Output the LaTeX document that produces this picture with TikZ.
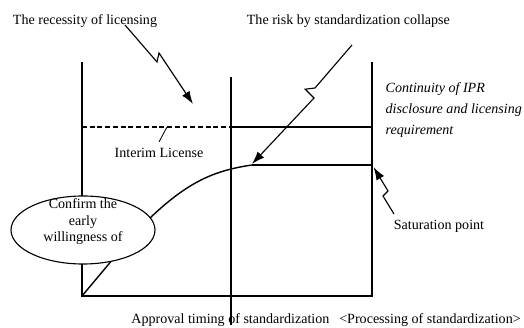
\documentclass[tikz,border=0pt]{standalone}
\usepackage{fontspec}
\setmainfont{Liberation Serif}
\usetikzlibrary{arrows.meta, positioning, shapes.geometric, calc}
\tikzset{
  every picture/.style={line width=1pt},
  txt/.style={font=\fontsize{10}{11.7}\selectfont, inner sep=0pt, anchor=base},
  note/.style={font=\fontsize{10}{15}\selectfont\itshape, inner sep=0pt, align=left, anchor=north west},
  bolt/.style={-{Latex[length=3.2mm, width=2.2mm]}, line width=0.8pt},
  leader/.style={line width=0.6pt},
}

\begin{document}
\begin{tikzpicture}
  \useasboundingbox (-2.05,-0.8) rectangle (11.05,7.4);
  % frame
  \draw (0,5.85) -- (0,0) -- (7.25,0) -- (7.25,5.85);
  \draw (3.72,5.475) -- (3.72,-0.725);
  \draw[dash pattern=on 3.5pt off 2pt] (0,4.225) -- (3.72,4.225);
  \draw (3.72,4.225) -- (7.25,4.225);
  \draw (4.25,3.275) -- (7.25,3.275);
  % growth curve, ellipse on top of it
  \draw (0,0) -- (1.3,1.55) .. controls (2.5,2.8) and (3.2,3.12) .. (4.25,3.275);
  \node[draw, ellipse, fill=white, line width=0.8pt, minimum width=3.6cm, minimum height=1.7cm] (early) at (0.025,1.65) {};
  \node[txt, align=center, anchor=center] (earlytxt) at ([yshift=0.2cm]early.center) {Confirm the\\ early\\ willingness of};
  % labels
  \node[txt] (need) at (0.075,6.775) {The recessity of licensing};
  \node[txt] (risk) at (6.66,6.775) {The risk by standardization collapse};
  \node[note] (ipr) at (7.575,5.35) {Continuity of IPR\\ disclosure and licensing\\ requirement};
  \node[txt] (interim) at (1.925,3.45) {Interim License};
  \node[txt] (sat) at (8.925,1.65) {Saturation point};
  \node[txt] (approval) at (3.71,-0.7) {Approval timing of standardization};
  \node[txt] (process) at (8.7,-0.7) {<Processing of standardization>};
  % arrow ends
  \coordinate (needfrom) at (1.075,6.775);
  \coordinate (needtip) at (2.775,4.8);
  \coordinate (riskfrom) at (6.75,6.275);
  \coordinate (risktip) at (4.25,3.3);
  \coordinate (satfrom) at (7.8,2.05);
  \coordinate (sattip) at (7.29,3.22);
  \coordinate (interimpt) at (2.125,4.225);
  % lightning arrows
  \draw[bolt] (needfrom) -- (1.875,5.85) -- (1.925,6.075) -- (needtip);
  \draw[bolt] (riskfrom) -- (5.825,5.2) -- (5.58,5.17) -- (5.8,4.95) -- (risktip);
  \draw[bolt] (satfrom) -- (7.525,2.5) -- (7.65,2.625) -- (sattip);
  \draw[leader] ([yshift=1.5mm]interim.north) -- (interimpt);
\end{tikzpicture}
\end{document}
